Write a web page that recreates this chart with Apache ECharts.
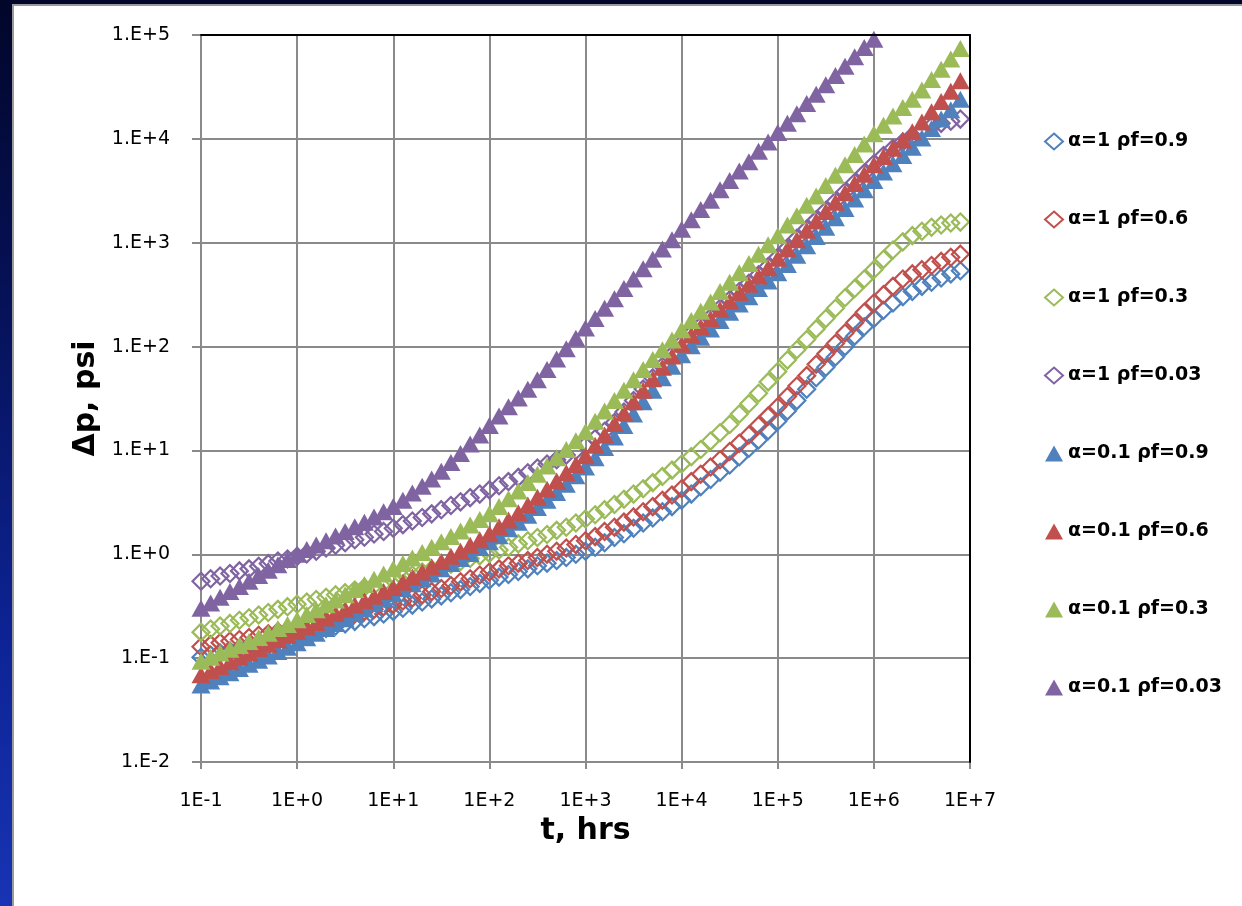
<!DOCTYPE html>
<html>
<head>
<meta charset="utf-8">
<script src="https://cdn.jsdelivr.net/npm/echarts@6/dist/echarts.min.js"></script>
<style>
  html, body { margin: 0; padding: 0; width: 1242px; height: 906px; overflow: hidden; }
  body { background: linear-gradient(180deg, #02062a 0%, #06125a 35%, #0d2394 70%, #1834b4 100%); position: relative; }
  #panel { position: absolute; left: 12px; top: 4px; width: 1240px; height: 910px; background: #ffffff;
           border-left: 2px solid #9a9a9a; border-top: 2px solid #9a9a9a; }
  #chart { position: absolute; left: 0; top: 0; width: 1242px; height: 906px; }
</style>
</head>
<body>
<div id="panel"></div>
<div id="chart"></div>
<script>
// time, hrs (10 points per decade)
const t = [0.1,0.126,0.158,0.2,0.251,0.316,0.398,0.501,0.631,0.794,
  1,1.26,1.58,2,2.51,3.16,3.98,5.01,6.31,7.94,
  10,12.6,15.8,20,25.1,31.6,39.8,50.1,63.1,79.4,
  100,126,158,200,251,316,398,501,631,794,
  1000,1260,1580,2000,2510,3160,3980,5010,6310,7940,
  10000,12600,15800,20000,25100,31600,39800,50100,63100,79400,
  100000,126000,158000,200000,251000,316000,398000,501000,631000,794000,
  1000000,1260000,1580000,2000000,2510000,3160000,3980000,5010000,6310000,7940000];

const names = ['α=1 ρf=0.9','α=1 ρf=0.6','α=1 ρf=0.3','α=1 ρf=0.03',
               'α=0.1 ρf=0.9','α=0.1 ρf=0.6','α=0.1 ρf=0.3','α=0.1 ρf=0.03'];

// Δp, psi
const a1_rf09 = [0.102,0.107,0.112,0.117,0.124,0.132,0.138,0.145,0.151,0.158,
  0.166,0.174,0.182,0.193,0.204,0.214,0.226,0.240,0.251,0.266,
  0.282,0.302,0.324,0.347,0.372,0.398,0.427,0.457,0.490,0.525,
  0.562,0.603,0.638,0.684,0.724,0.776,0.822,0.871,0.933,1.00,
  1.07,1.17,1.29,1.45,1.58,1.78,2.00,2.24,2.57,2.88,
  3.31,3.80,4.47,5.25,6.17,7.24,8.71,10.5,12.6,15.5,
  19.1,24.0,30.2,38.9,50.1,63.1,79.4,100,126,155,
  186,224,263,302,339,380,417,457,501,537];
const a1_rf06 = [0.129,0.135,0.141,0.146,0.151,0.158,0.166,0.172,0.180,0.186,
  0.195,0.204,0.216,0.226,0.240,0.251,0.266,0.282,0.295,0.313,
  0.331,0.355,0.380,0.407,0.437,0.468,0.501,0.543,0.582,0.631,
  0.676,0.724,0.776,0.822,0.871,0.933,1.00,1.07,1.15,1.24,
  1.35,1.48,1.66,1.82,2.04,2.29,2.57,2.88,3.31,3.72,
  4.27,5.01,5.89,6.92,8.13,9.77,11.7,14.1,17.4,21.4,
  26.3,33.1,41.7,52.5,67.6,85.1,107,135,170,214,
  263,316,380,447,501,550,603,661,724,776];
const a1_rf03 = [0.178,0.191,0.204,0.216,0.232,0.245,0.260,0.275,0.295,0.313,
  0.331,0.347,0.367,0.385,0.407,0.427,0.452,0.479,0.501,0.531,
  0.562,0.596,0.631,0.676,0.716,0.759,0.804,0.851,0.912,0.966,
  1.02,1.10,1.17,1.26,1.35,1.45,1.55,1.70,1.82,2.00,
  2.19,2.40,2.69,3.02,3.39,3.80,4.27,4.90,5.62,6.46,
  7.41,8.71,10.2,12.3,14.8,17.8,22.4,28.2,35.5,45.7,
  57.5,74.1,93.3,117,148,186,234,295,363,447,
  550,692,851,1020,1170,1290,1410,1480,1550,1580];
const a1_rf003 = [0.550,0.582,0.617,0.653,0.692,0.724,0.767,0.813,0.861,0.902,
  0.955,1.01,1.07,1.15,1.22,1.29,1.38,1.46,1.57,1.66,
  1.78,1.93,2.09,2.26,2.45,2.69,2.95,3.20,3.51,3.80,
  4.17,4.57,5.01,5.50,6.10,6.76,7.41,8.13,9.02,10.0,
  11.2,13.0,15.3,18.6,23.4,30.2,39.0,50.1,64.6,83.2,
  107,132,159,191,234,282,339,407,490,589,
  724,891,1100,1350,1660,2040,2510,3090,3800,4680,
  5750,6920,8130,9330,10700,12000,13200,14100,14800,15500];
const a01_rf09 = [0.0550,0.0603,0.0661,0.0724,0.0794,0.0871,0.0955,0.105,0.116,0.127,
  0.141,0.157,0.174,0.193,0.216,0.240,0.269,0.299,0.335,0.372,
  0.417,0.468,0.519,0.582,0.646,0.724,0.813,0.912,1.02,1.16,
  1.32,1.51,1.76,2.04,2.37,2.82,3.31,3.94,4.73,5.69,
  6.92,8.51,10.7,13.5,17.4,22.4,29.5,38.0,50.1,64.6,
  83.2,102,123,148,178,214,257,302,363,427,
  513,617,759,933,1150,1410,1740,2140,2630,3240,
  3980,4790,5750,6920,8320,10200,12600,15500,19100,24000];
const a01_rf06 = [0.0692,0.0759,0.0832,0.0923,0.102,0.112,0.124,0.136,0.150,0.166,
  0.182,0.200,0.221,0.243,0.269,0.295,0.324,0.359,0.394,0.437,
  0.479,0.537,0.603,0.676,0.759,0.851,0.955,1.07,1.22,1.38,
  1.58,1.84,2.14,2.51,2.99,3.55,4.22,5.07,6.10,7.33,
  8.91,11.2,14.1,18.2,22.9,29.5,38.0,49.0,63.1,81.3,
  105,129,155,186,229,275,331,398,479,575,
  708,871,1070,1320,1620,2000,2450,3020,3720,4570,
  5620,6760,8130,9770,11700,14500,18200,22900,28800,36300];
const a01_rf03 = [0.0933,0.102,0.112,0.122,0.132,0.145,0.158,0.174,0.193,0.211,
  0.234,0.263,0.292,0.327,0.363,0.407,0.457,0.513,0.575,0.646,
  0.724,0.813,0.923,1.04,1.17,1.32,1.48,1.68,1.91,2.16,
  2.45,2.88,3.43,4.07,4.90,5.89,7.08,8.51,10.2,12.4,
  15.1,19.1,24.0,30.2,38.0,47.9,60.3,75.0,93.3,116,
  145,178,219,269,339,417,513,631,776,955,
  1170,1480,1820,2290,2820,3550,4470,5620,7080,8910,
  11200,13500,16600,20000,24000,29500,37200,46800,58900,74100];
const a01_rf003 = [0.302,0.339,0.385,0.437,0.490,0.550,0.624,0.700,0.794,0.891,
  1.00,1.11,1.23,1.35,1.50,1.66,1.84,2.04,2.29,2.57,
  2.88,3.31,3.89,4.52,5.31,6.31,7.67,9.33,11.5,14.1,
  17.4,21.4,26.3,32.0,38.9,47.9,60.3,75.9,95.5,120,
  151,186,234,288,363,447,562,692,871,1070,
  1350,1660,2090,2570,3240,3980,4900,6030,7590,9330,
  11500,14100,17400,21900,26900,33100,40700,50100,61700,75900,
  91200];

const xTickLabels = ['1E-1','1E+0','1E+1','1E+2','1E+3','1E+4','1E+5','1E+6','1E+7'];
const yTickLabels = ['1.E-2','1.E-1','1.E+0','1.E+1','1.E+2','1.E+3','1.E+4','1.E+5'];

const values = [a1_rf09, a1_rf06, a1_rf03, a1_rf003, a01_rf09, a01_rf06, a01_rf03, a01_rf003];
const colors = ['#4F81BD','#C0504D','#9BBB59','#8064A2','#4F81BD','#C0504D','#9BBB59','#8064A2'];

const FONT = 'DejaVu Sans';
const GRID = '#8a8a8a';

const series = values.map((vals, k) => {
  const hollow = k < 4;
  return {
    name: names[k],
    type: 'scatter',
    data: vals.map((v, i) => [t[i], v]),
    symbol: hollow ? 'diamond' : 'triangle',
    symbolSize: hollow ? 17 : [19, 17],
    itemStyle: hollow
      ? { color: 'rgba(255,255,255,0)', borderColor: colors[k], borderWidth: 2.2, opacity: 1 }
      : { color: colors[k], borderWidth: 0, opacity: 1 },
    emphasis: { disabled: true },
    clip: false,
    animation: false
  };
});

const chart = echarts.init(document.getElementById('chart'), null, { renderer: 'canvas' });
chart.setOption({
  animation: false,
  backgroundColor: 'transparent',
  textStyle: { fontFamily: FONT },
  grid: { left: 201, right: 272, top: 35, bottom: 144, containLabel: false },
  legend: {
    orient: 'vertical',
    left: 1039,
    top: 127,
    itemGap: 59,
    itemWidth: 18,
    itemHeight: 16,
    data: names,
    textStyle: { fontFamily: FONT, fontSize: 19, fontWeight: 'bold', color: '#000' }
  },
  xAxis: [{
    type: 'log', logBase: 10, min: 0.1, max: 1e7, splitNumber: 8,
    axisLine: { show: true, lineStyle: { color: GRID, width: 2 } },
    axisTick: { show: true, length: 7, lineStyle: { color: GRID, width: 2 } },
    minorTick: { show: false },
    axisLabel: {
      margin: 30, fontSize: 19, color: '#000', fontFamily: FONT,
      formatter: v => xTickLabels[Math.round(Math.log10(v)) + 1]
    },
    splitLine: { show: true, lineStyle: { color: GRID, width: 2 } },
    name: 't, hrs', nameLocation: 'middle', nameGap: 50,
    nameTextStyle: { fontSize: 30, fontWeight: 'bold', color: '#000', fontFamily: FONT }
  }, {
    type: 'log', logBase: 10, min: 0.1, max: 1e7, position: 'top', z: 5,
    axisLine: { show: true, lineStyle: { color: '#000', width: 2 } },
    axisTick: { show: false }, axisLabel: { show: false }, splitLine: { show: false }
  }],
  yAxis: [{
    type: 'log', logBase: 10, min: 0.01, max: 1e5, splitNumber: 7,
    axisLine: { show: true, lineStyle: { color: GRID, width: 2 } },
    axisTick: { show: true, length: 9, lineStyle: { color: GRID, width: 2 } },
    minorTick: { show: false },
    axisLabel: {
      margin: 31, fontSize: 19, color: '#000', fontFamily: FONT,
      formatter: v => yTickLabels[Math.round(Math.log10(v)) + 2]
    },
    splitLine: { show: true, lineStyle: { color: GRID, width: 2 } },
    name: 'Δp, psi', nameLocation: 'middle', nameGap: 88, nameRotate: 90,
    nameTextStyle: { fontSize: 30, fontWeight: 'bold', color: '#000', fontFamily: FONT }
  }, {
    type: 'log', logBase: 10, min: 0.01, max: 1e5, position: 'right', z: 5,
    axisLine: { show: true, lineStyle: { color: '#000', width: 2 } },
    axisTick: { show: false }, axisLabel: { show: false }, splitLine: { show: false }
  }],
  series: series
});
</script>
</body>
</html>
